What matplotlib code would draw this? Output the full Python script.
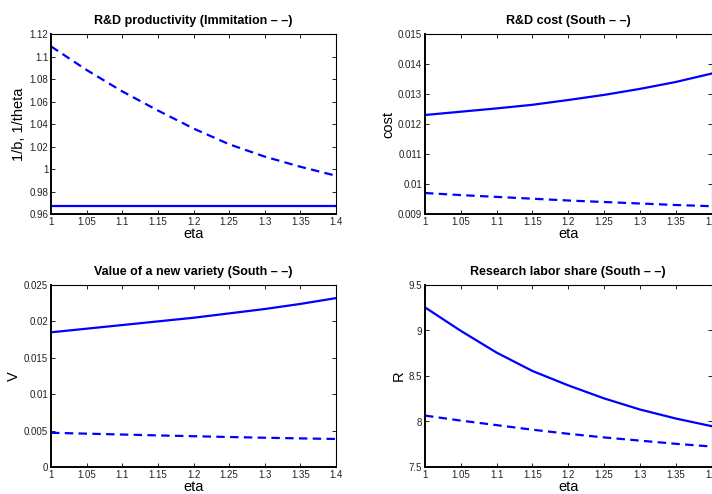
import matplotlib
matplotlib.use("Agg")
import matplotlib.pyplot as plt
from matplotlib.figure import Figure
from matplotlib.axes import Axes

plt.rcParams["font.family"] = ["Liberation Sans", "DejaVu Sans"]

eta = [1.0, 1.05, 1.1, 1.15, 1.2, 1.25, 1.3, 1.35, 1.4]

# R&D productivity: solid = 1/b, dashed = 1/theta (imitation)
prod_solid = [0.967, 0.967, 0.967, 0.967, 0.967, 0.967, 0.967, 0.967, 0.967]
prod_dashed = [1.109, 1.088, 1.069, 1.052, 1.036, 1.022, 1.011, 1.002, 0.994]

# R&D cost: solid = North, dashed = South
cost_solid = [0.01230, 0.01241, 0.01252, 0.01264, 0.01280, 0.01297, 0.01317, 0.01340, 0.01368]
cost_dashed = [0.00970, 0.00963, 0.00957, 0.00951, 0.00945, 0.00940, 0.00935, 0.00930, 0.00926]

# value of a new variety
v_solid = [0.0185, 0.0190, 0.0195, 0.0200, 0.0205, 0.0211, 0.0217, 0.0224, 0.0232]
v_dashed = [0.00470, 0.00458, 0.00446, 0.00434, 0.00423, 0.00412, 0.00402, 0.00393, 0.00385]

# research labor share
r_solid = [9.254, 8.996, 8.757, 8.555, 8.397, 8.254, 8.132, 8.033, 7.949]
r_dashed = [8.065, 8.010, 7.960, 7.910, 7.865, 7.825, 7.790, 7.755, 7.725]

x_ticks = [1, 1.05, 1.1, 1.15, 1.2, 1.25, 1.3, 1.35, 1.4]
x_ticklabels = ["1", "1.05", "1.1", "1.15", "1.2", "1.25", "1.3", "1.35", "1.4"]

panels = [
    ("R&D productivity (Immitation \u2013 \u2013)", "1/b, 1/theta", prod_solid, prod_dashed,
     (0.96, 1.12), [0.96, 0.98, 1.0, 1.02, 1.04, 1.06, 1.08, 1.1, 1.12],
     ["0.96", "0.98", "1", "1.02", "1.04", "1.06", "1.08", "1.1", "1.12"]),
    ("R&D cost (South \u2013 \u2013)", "cost", cost_solid, cost_dashed,
     (0.009, 0.015), [0.009, 0.010, 0.011, 0.012, 0.013, 0.014, 0.015],
     ["0.009", "0.01", "0.011", "0.012", "0.013", "0.014", "0.015"]),
    ("Value of a new variety (South \u2013 \u2013)", "V", v_solid, v_dashed,
     (0.0, 0.025), [0, 0.005, 0.01, 0.015, 0.02, 0.025],
     ["0", "0.005", "0.01", "0.015", "0.02", "0.025"]),
    ("Research labor share (South \u2013 \u2013)", "R", r_solid, r_dashed,
     (7.5, 9.5), [7.5, 8, 8.5, 9, 9.5],
     ["7.5", "8", "8.5", "9", "9.5"]),
]

# axes positions in figure fractions (left, bottom, width, height)
W, H = 712.0, 494.0
positions = [
    (51 / W, 1 - 214 / H, 285 / W, 180 / H),
    (425 / W, 1 - 214 / H, 286.5 / W, 180 / H),
    (51 / W, 1 - 467 / H, 285 / W, 182 / H),
    (425 / W, 1 - 467 / H, 286.5 / W, 182 / H),
]

figure: Figure = plt.figure(figsize=(7.12, 4.94), dpi=100)
for pos, (title, ylabel, ys, yd, ylim, yt, ytl) in zip(positions, panels):
    ax: Axes = figure.add_axes(pos)
    ax.plot(eta, ys, color="#0000ff", linewidth=1.6)
    ax.plot(eta, yd, color="#0000ff", linewidth=1.6, linestyle=(0, (3.8, 2.4)))
    ax.set_xlim(1, 1.4)
    ax.set_ylim(*ylim)
    ax.set_xticks(x_ticks)
    ax.set_xticklabels(x_ticklabels)
    ax.set_yticks(yt)
    ax.set_yticklabels(ytl)
    ax.tick_params(direction="in", top=True, right=True, length=3, width=0.7,
                   labelsize=7, pad=2, colors="#222222")
    for side in ["top", "right"]:
        ax.spines[side].set_linewidth(0.8)
    for side in ["bottom", "left"]:
        ax.spines[side].set_linewidth(1.4)
    ax.set_title(title, fontsize=9, fontweight="bold", pad=7)
    ax.set_xlabel("eta", fontsize=10.5, labelpad=0)
    ax.set_ylabel(ylabel, fontsize=10.5, labelpad=2)

figure.savefig("out.png", dpi=100)
